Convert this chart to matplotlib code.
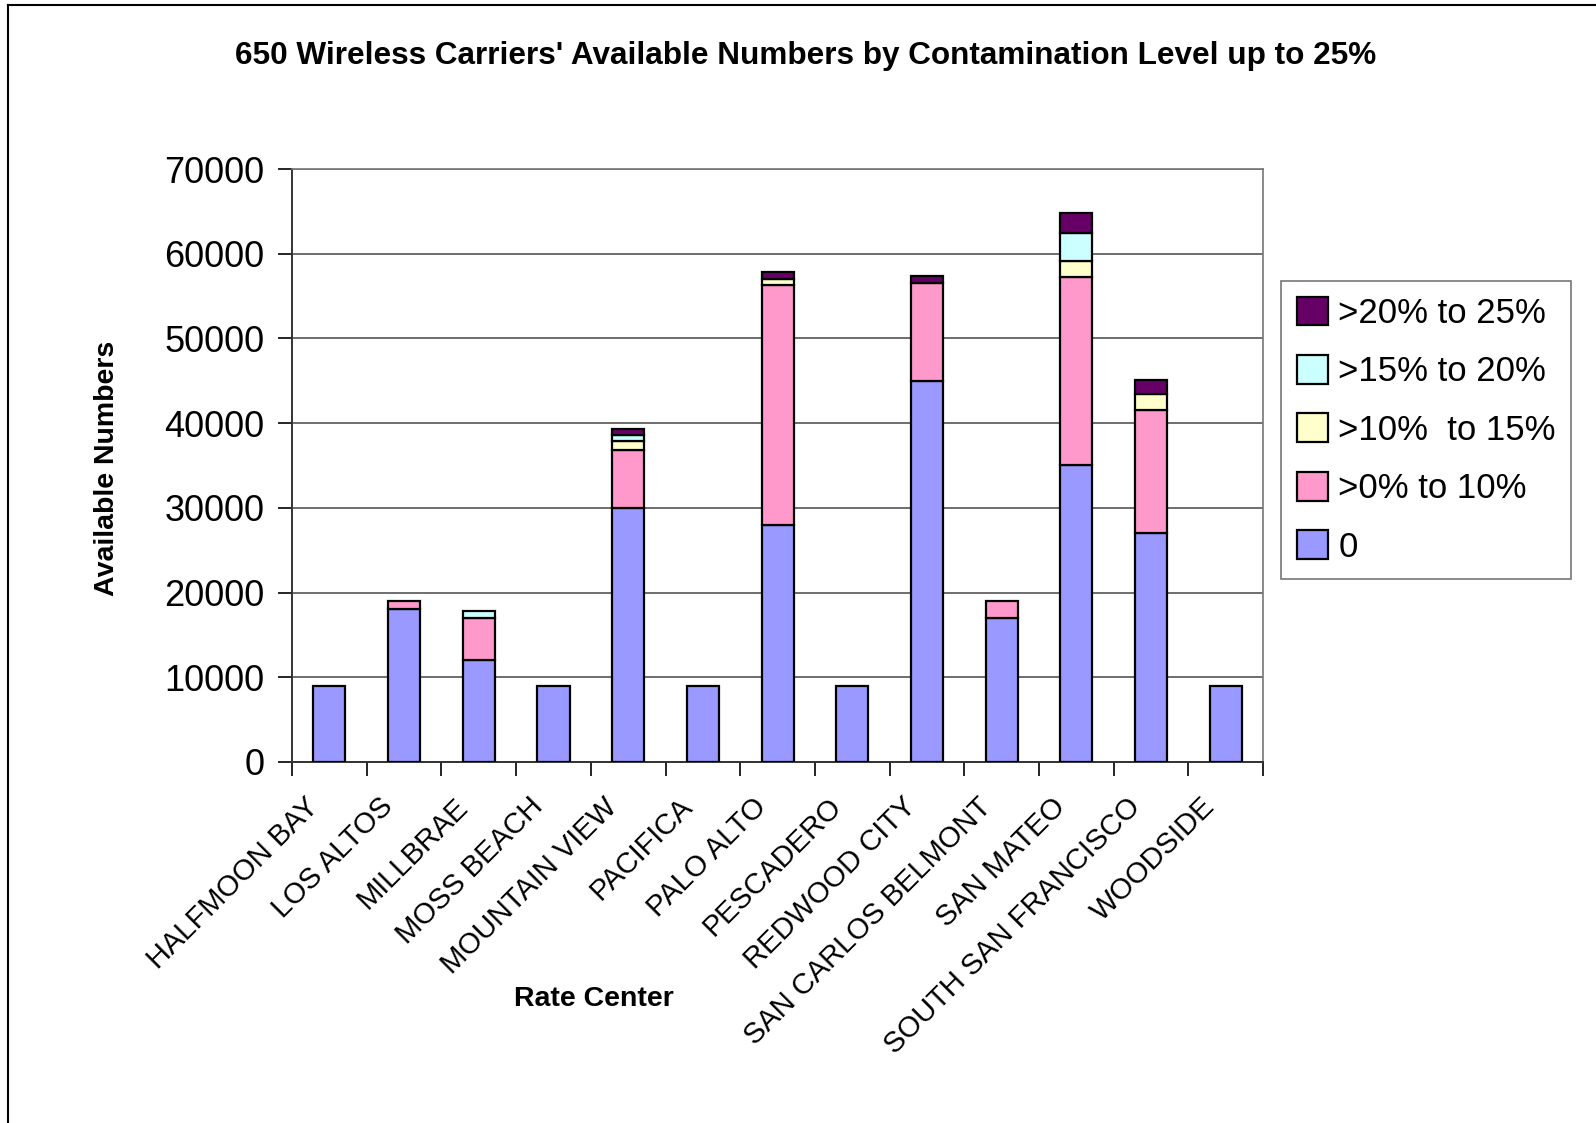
import numpy as np
import matplotlib
matplotlib.use('Agg')
import matplotlib.pyplot as plt
from matplotlib.lines import Line2D
from matplotlib.transforms import ScaledTranslation

plt.rcParams['font.family'] = ['Liberation Sans', 'DejaVu Sans']

centers = ['HALFMOON BAY', 'LOS ALTOS', 'MILLBRAE', 'MOSS BEACH', 'MOUNTAIN VIEW',
           'PACIFICA', 'PALO ALTO', 'PESCADERO', 'REDWOOD CITY', 'SAN CARLOS BELMONT',
           'SAN MATEO', 'SOUTH SAN FRANCISCO', 'WOODSIDE']

# available numbers per contamination band
level_0 = [9000, 18000, 12000, 9000, 30000, 9000, 28000, 9000, 45000, 17000, 35000, 27000, 9000]
level_0_10 = [0, 1000, 5000, 0, 6800, 0, 28300, 0, 11600, 2000, 22300, 14600, 0]
level_10_15 = [0, 0, 0, 0, 1100, 0, 700, 0, 0, 0, 1800, 1800, 0]
level_15_20 = [0, 0, 800, 0, 650, 0, 0, 0, 0, 0, 3400, 0, 0]
level_20_25 = [0, 0, 0, 0, 800, 0, 850, 0, 800, 0, 2300, 1650, 0]

series = [level_0, level_0_10, level_10_15, level_15_20, level_20_25]
labels = ['0', '>0% to 10%', '>10%  to 15%', '>15% to 20%', '>20% to 25%']
colors = ['#9999FF', '#FF99CC', '#FFFFCC', '#CCFFFF', '#660066']

fig = plt.figure(figsize=(15.96, 11.23), dpi=100)
ax = fig.add_axes([0.183, 0.3215, 0.6084, 0.528])

x = np.arange(len(centers))
bottom = np.zeros(len(centers))
handles = []
for vals, lab, col in zip(series, labels, colors):
    vals = np.array(vals, dtype=float)
    mask = vals > 0
    ax.bar(x[mask], vals[mask], bottom=bottom[mask], width=0.43, color=col,
           edgecolor='black', linewidth=1.6, zorder=3)
    handles.append(plt.Rectangle((0, 0), 1, 1, facecolor=col, edgecolor='black', linewidth=1.6))
    bottom += vals

ax.set_xlim(-0.5, len(centers) - 0.5)
ax.set_ylim(0, 70000)
ax.set_yticks(range(0, 70001, 10000))
ax.yaxis.grid(True, color='#555555', linewidth=1.2, zorder=0)
ax.tick_params(axis='y', labelsize=26, length=10, width=1.2, direction='out', pad=10)

# x ticks sit between categories, labels centred under bars
ax.set_xticks(np.arange(-0.5, len(centers), 1.0))
ax.set_xticklabels([])
ax.tick_params(axis='x', length=10, width=1.2, direction='out')
ax.set_xticks(x, minor=True)
ax.set_xticklabels(centers, minor=True, rotation=45, ha='right', rotation_mode='anchor', fontsize=21)
ax.tick_params(axis='x', which='minor', length=0, pad=22)
shift = ScaledTranslation(-25 / 100, 0, fig.dpi_scale_trans)
for t in ax.get_xticklabels(minor=True):
    t.set_transform(t.get_transform() + shift)

for side in ['left', 'bottom']:
    ax.spines[side].set_color('#333333')
    ax.spines[side].set_linewidth(1.4)
for side in ['top', 'right']:
    ax.spines[side].set_color('#777777')
    ax.spines[side].set_linewidth(1.2)

fig.text(0.505, 0.95, "650 Wireless Carriers' Available Numbers by Contamination Level up to 25%",
         ha='center', va='center', fontsize=22.7, fontweight='bold')
fig.text(0.372, 0.11, 'Rate Center', ha='center', va='center', fontsize=20.5, fontweight='bold')
fig.text(0.067, 0.583, 'Available Numbers', ha='center', va='center', rotation=90,
         fontsize=20.5, fontweight='bold')

leg = fig.legend(handles[::-1], labels[::-1], loc='upper left', bbox_to_anchor=(0.8026, 0.7498),
                 fontsize=25, frameon=True, fancybox=False, handlelength=0.9, handleheight=0.9,
                 handletextpad=0.3, labelspacing=0.72, borderpad=0.45, borderaxespad=0)
leg.get_frame().set_edgecolor('#555555')
leg.get_frame().set_linewidth(1.2)

# outer chart border (top and left edges visible)
fig.add_artist(Line2D([0.005, 1.0], [0.9955, 0.9955], color='black', linewidth=1.5))
fig.add_artist(Line2D([0.005, 0.005], [0.0, 0.9955], color='black', linewidth=1.5))

fig.savefig('out.png', dpi=100)
